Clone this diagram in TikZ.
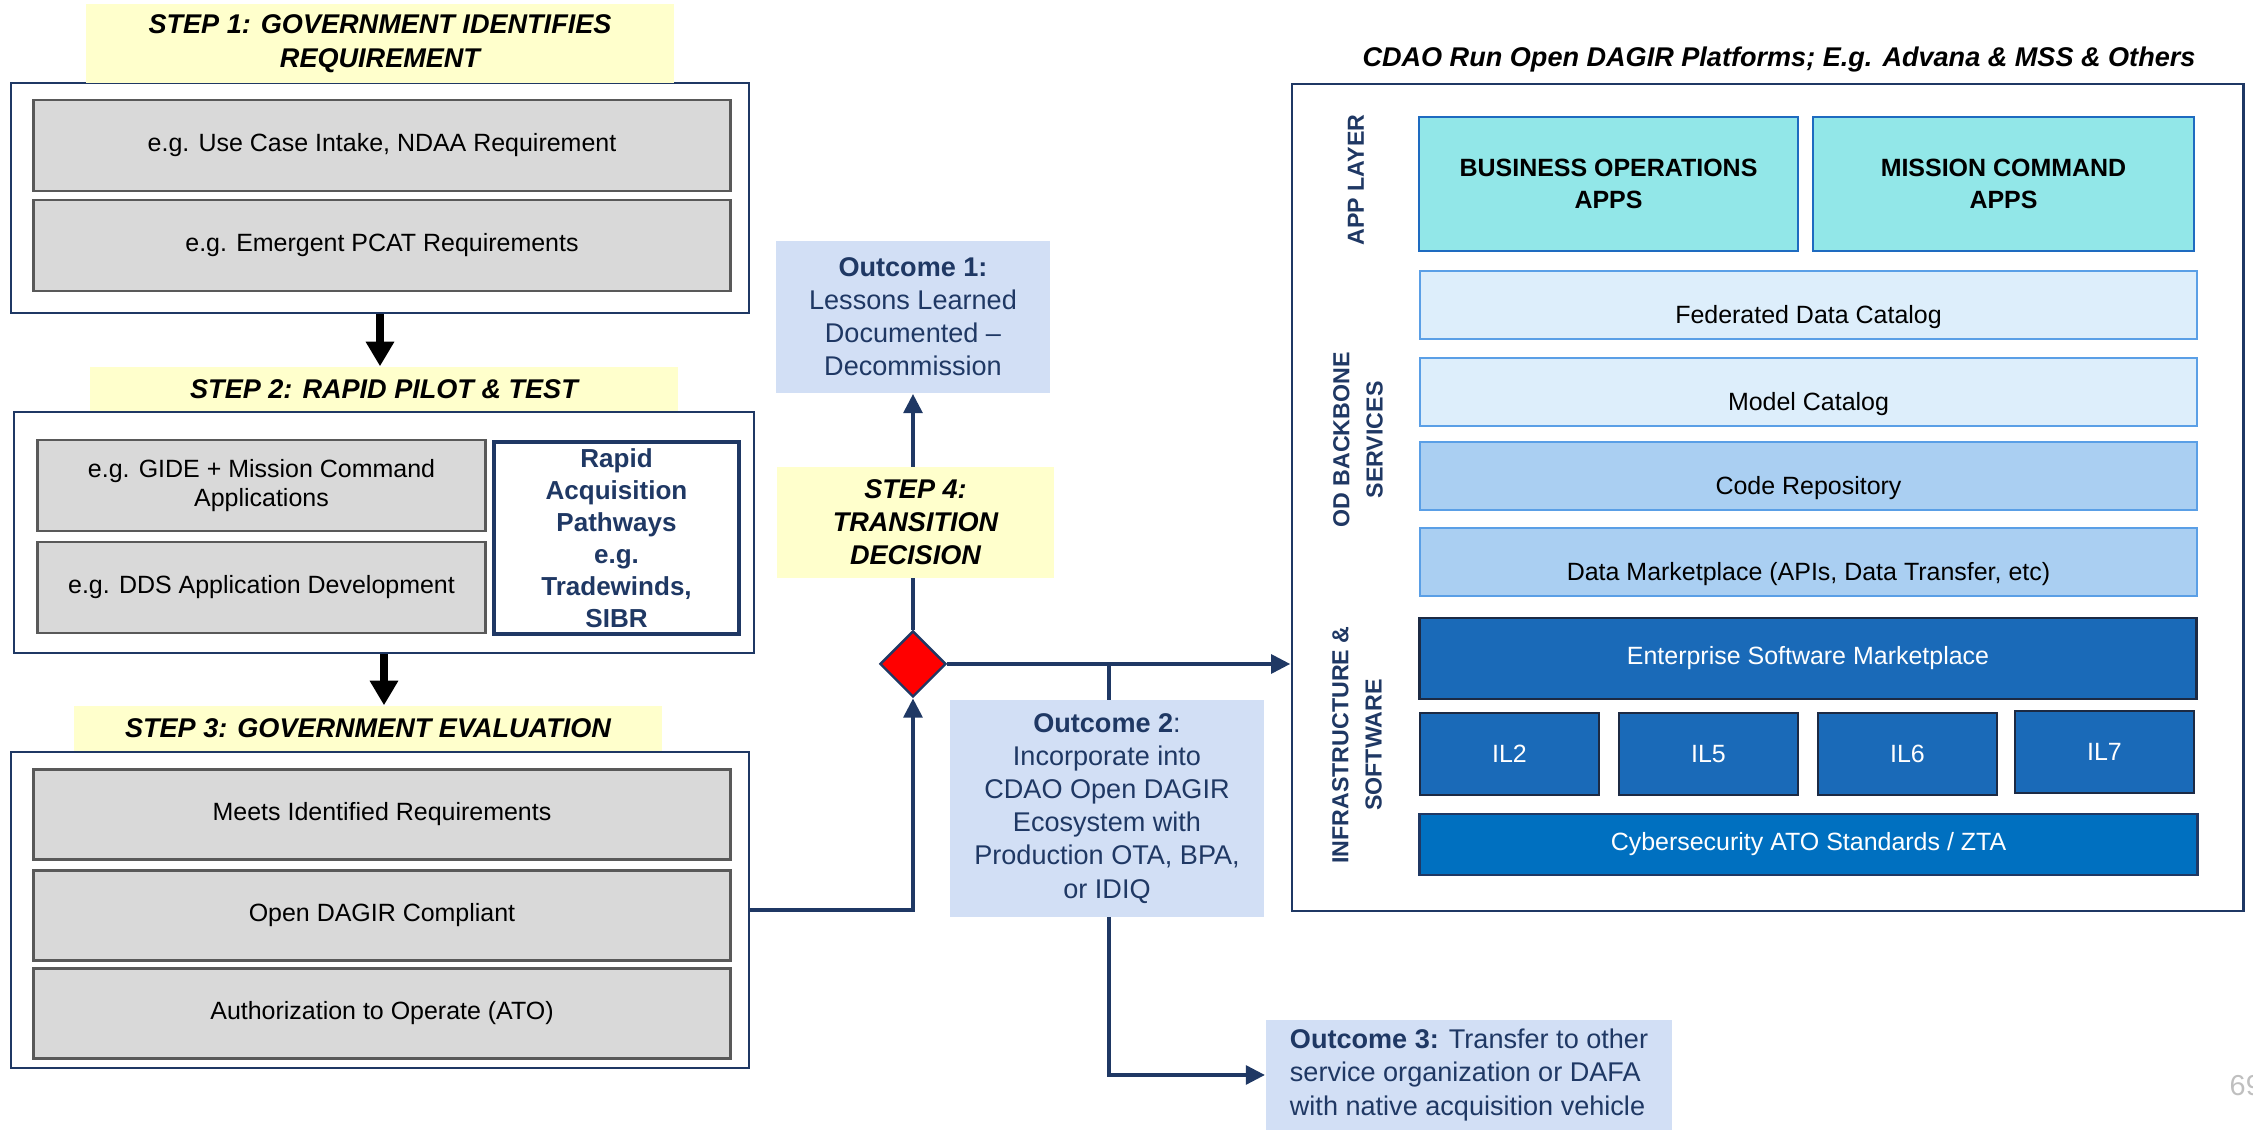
\documentclass[tikz,border=0pt]{standalone}
\usepackage{fontspec}
\setmainfont{Liberation Sans}
\usetikzlibrary{arrows.meta,shapes.geometric}

\definecolor{navy}{HTML}{1F3864}
\definecolor{cyellow}{HTML}{FFFFCC}
\definecolor{cgray}{HTML}{D9D9D9}
\definecolor{cgrayedge}{HTML}{595959}
\definecolor{coutcome}{HTML}{D2DFF5}
\definecolor{capp}{HTML}{92E7E8}
\definecolor{cappedge}{HTML}{1E6BC0}
\definecolor{csvcedge}{HTML}{5A9FE6}
\definecolor{csvclight}{HTML}{DDEEFB}
\definecolor{csvcmid}{HTML}{AACFF2}
\definecolor{cinfra}{HTML}{1A6AB8}
\definecolor{cinfraedge}{HTML}{1C2A44}
\definecolor{ccyber}{HTML}{0070C0}

\newcommand{\bodyfont}{\fontsize{7.1}{8.5}\selectfont}
\newcommand{\titlefont}{\fontsize{7.7}{9.7}\selectfont\bfseries\itshape}
\newcommand{\outfont}{\fontsize{7.7}{9.4}\selectfont}
\newcommand{\labfont}{\fontsize{6.6}{9.4}\selectfont\bfseries}
\newcommand{\appfont}{\fontsize{7.1}{9.1}\selectfont\bfseries}
\newcommand{\rapidfont}{\fontsize{7.4}{9.1}\selectfont\bfseries}

\begin{document}
\begin{tikzpicture}[
        x=0.01cm, y=-0.01cm,
        stepbox/.style={draw=navy,line width=0.6pt,fill=white,inner sep=0pt},
        steptitle/.style={fill=cyellow,font=\titlefont,align=center,inner sep=0pt},
        graybox/.style={draw=cgrayedge,line width=0.8pt,fill=cgray,font=\bodyfont,align=center,inner sep=0pt,minimum height=0.9cm},
        outcome/.style={fill=coutcome,text=navy,font=\outfont,align=center,inner sep=0pt},
        appbox/.style={draw=cappedge,line width=0.7pt,fill=capp,font=\appfont,align=center,inner sep=0pt,minimum width=3.79cm,minimum height=1.34cm},
        svcbox/.style={draw=csvcedge,line width=0.7pt,font=\bodyfont,inner sep=0pt,minimum width=7.77cm,minimum height=0.68cm,text height=10.8pt,text depth=0pt},
        infrabox/.style={draw=cinfraedge,line width=0.8pt,fill=cinfra,text=white,font=\bodyfont,inner sep=0pt},
        sidelabel/.style={text=navy,font=\labfont,align=center,inner sep=0pt,rotate=90},
        stepflow/.style={draw=black,line width=2pt,-{Triangle[width=7.7pt,length=7pt]}},
        flow/.style={draw=navy,line width=1.4pt,-{Triangle[width=5.2pt,length=5.5pt]}},
    ]
    \useasboundingbox (0,0) rectangle (2253,1131);

    % step 1
    \node[stepbox,minimum width=7.38cm,minimum height=2.30cm] (s1box) at (380,198) {};
    \node[steptitle,minimum width=5.88cm,minimum height=0.79cm] (s1title) at (380,43.5)
        {STEP 1: GOVERNMENT IDENTIFIES\\REQUIREMENT};
    \foreach \ypos/\name/\txt in {
            {145.5/req1/e.g. Use Case Intake, NDAA Requirement},
            {245.5/req2/e.g. Emergent PCAT Requirements}}
        \node[graybox,minimum width=6.96cm,minimum height=0.91cm] (\name) at (382,\ypos) {\txt};

    % step 2
    \node[stepbox,minimum width=7.39cm,minimum height=2.41cm] (s2box) at (384,532.5) {};
    \node[steptitle,minimum width=5.88cm,minimum height=0.44cm] (s2title) at (384,389)
        {STEP 2: RAPID PILOT \& TEST};
    \node[graybox,minimum width=4.47cm,minimum height=0.91cm] (pilot1) at (261.5,485.5)
        {e.g. GIDE + Mission Command\\Applications};
    \node[graybox,minimum width=4.47cm,minimum height=0.91cm] (pilot2) at (261.5,587.5)
        {e.g. DDS Application Development};
    \node[draw=navy,line width=0.9pt,fill=white,text=navy,font=\rapidfont,align=center,
        minimum width=2.45cm,minimum height=1.92cm,inner sep=0pt] (rapid) at (616.5,538)
        {Rapid\\Acquisition\\Pathways\\e.g.\\Tradewinds,\\SIBR};

    % step 3
    \node[stepbox,minimum width=7.38cm,minimum height=3.16cm] (s3box) at (380,910) {};
    \node[steptitle,minimum width=5.88cm,minimum height=0.45cm] (s3title) at (368,728.5)
        {STEP 3: GOVERNMENT EVALUATION};
    \foreach \ypos/\name/\txt in {
            {814.5/eval1/Meets Identified Requirements},
            {915.5/eval2/Open DAGIR Compliant},
            {1013.5/eval3/Authorization to Operate (ATO)}}
        \node[graybox,minimum width=6.96cm] (\name) at (382,\ypos) {\txt};

    \draw[stepflow] (s1box.south) -- (s1box.south |- s2title.north);
    \draw[stepflow] (s2box.south) -- (s2box.south |- s3title.north);

    % step 4 and outcomes
    \node[diamond,draw=navy,fill=red,line width=0.7pt,minimum width=0.66cm,minimum height=0.66cm,inner sep=0pt] (dec) at (913,664) {};
    \node[outcome,minimum width=2.74cm,minimum height=1.52cm] (out1) at (913,317)
        {\textbf{Outcome 1:}\\Lessons Learned\\Documented --\\Decommission};
    \node[outcome,align=left,minimum width=4.06cm,minimum height=1.10cm] (out3) at (1469,1075)
        {\textbf{Outcome 3:} Transfer to other\\service organization or DAFA\\with native acquisition vehicle};

    \draw[flow] (s3box.east) -| (dec.south);
    \draw[flow] (dec.north) -- (out1.south);
    \node[steptitle,minimum width=2.77cm,minimum height=1.11cm,font=\fontsize{7.7}{9.4}\selectfont\bfseries\itshape] (s4title) at (915.5,522.5)
        {STEP 4:\\TRANSITION\\DECISION};

    % platform
    \node[font=\fontsize{7.7}{9}\selectfont\bfseries\itshape,inner sep=0pt] (ptitle) at (1779,60)
        {CDAO Run Open DAGIR Platforms; E.g. Advana \& MSS \& Others};
    \node[draw=navy,line width=0.7pt,fill=white,minimum width=9.51cm,minimum height=8.27cm,inner sep=0pt] (plat) at (1767.5,497.5) {};

    \draw[flow] (dec.east) -- (plat.west |- dec.east);
    \coordinate (split) at (1109,664);
    \draw[flow] (split) |- (out3.west);
    \node[outcome,minimum width=3.14cm,minimum height=2.17cm] (out2) at (1107,808.5)
        {\textbf{Outcome 2}:\\Incorporate into\\CDAO Open DAGIR\\Ecosystem with\\Production OTA, BPA,\\or IDIQ};

    \node[sidelabel] (applbl) at (1356,180) {APP LAYER};
    \node[sidelabel] (odlbl) at (1358,440) {OD BACKBONE\\SERVICES};
    \node[sidelabel] (infralbl) at (1357,745) {INFRASTRUCTURE \&\\SOFTWARE};

    \node[appbox] (bizapps) at (1608.5,184) {BUSINESS OPERATIONS\\APPS};
    \node[appbox,minimum width=3.81cm] (misapps) at (2003.5,184) {MISSION COMMAND\\APPS};

    \foreach \ypos/\name/\fillc/\txt in {
            {305/fedcat/csvclight/Federated Data Catalog},
            {392/modcat/csvclight/Model Catalog},
            {476/coderepo/csvcmid/Code Repository},
            {562/datamkt/csvcmid/Data Marketplace (APIs, Data Transfer, etc)}}
        \node[svcbox,fill=\fillc] (\name) at (1808.5,\ypos) {\txt};

    \node[infrabox,minimum width=7.76cm,minimum height=0.81cm] (entsw) at (1808,658.5) {Enterprise Software Marketplace};
    \foreach \pos/\name in {
            {(1509.5,754)/IL2}, {(1708.5,754)/IL5}, {(1907.5,754)/IL6}, {(2104.5,752)/IL7}}
        \node[infrabox,minimum width=1.79cm,minimum height=0.82cm] (\name) at \pos {\name};
    \node[infrabox,fill=ccyber,draw=navy,minimum width=7.77cm,minimum height=0.61cm] (cyber) at (1808.5,844.5)
        {Cybersecurity ATO Standards / ZTA};

    \node[text=black!25,font=\fontsize{8.2}{10}\selectfont,anchor=west,inner sep=0pt] (pgnum) at (2229,1086) {69};
\end{tikzpicture}
\end{document}
